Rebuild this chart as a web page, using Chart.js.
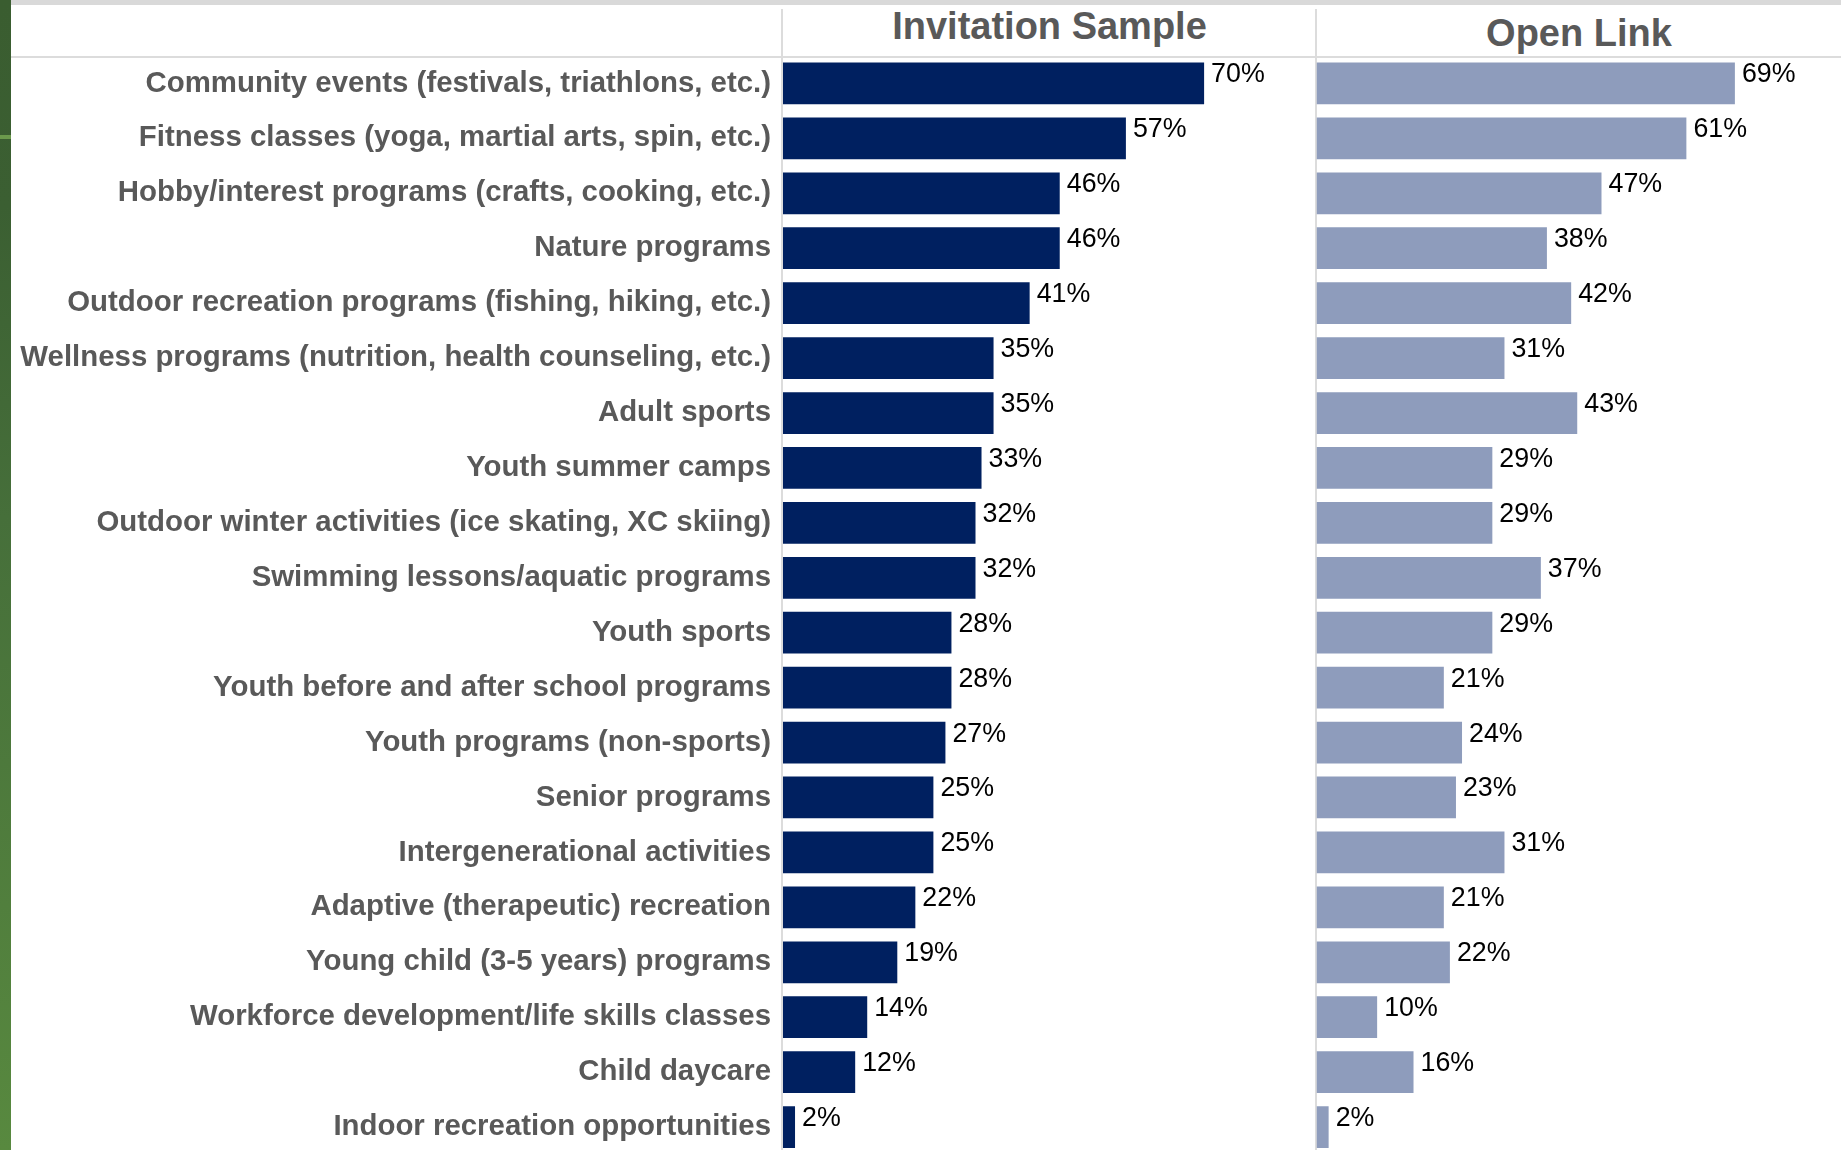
<!DOCTYPE html>
<html>
<head>
<meta charset="utf-8">
<title>Program interest by sample</title>
<script src="https://cdn.jsdelivr.net/npm/chart.js@4.4.1/dist/chart.umd.min.js"></script>
<style>
  html, body {
    margin: 0;
    padding: 0;
    width: 1841px;
    height: 1150px;
    overflow: hidden;
    background: #ffffff;
    font-family: "Liberation Sans", Arial, sans-serif;
  }
  #page { position: relative; width: 1841px; height: 1150px; }
  canvas { position: absolute; top: 0; }
  #chartInvite { left: 0; }
  #chartOpen   { left: 1316px; }

  /* slide frame: green edge strip, grey top band, table rules */
  .strip {
    position: absolute; left: 0; top: 0; width: 11px; height: 1150px;
    background: linear-gradient(to bottom, #3a5d30 0%, #3b5f32 18%, #466f3a 45%, #58893f 100%);
    z-index: 3;
  }
  .strip-tick {
    position: absolute; left: 0; top: 135px; width: 11px; height: 4px;
    background: #6b9a4c; z-index: 4;
  }
  .topband {
    position: absolute; left: 11px; top: 0; width: 1830px; height: 5px;
    background: #d9d9d9;
  }
  .hrule {
    position: absolute; left: 11px; top: 56px; width: 1830px; height: 2px;
    background: #dcdcdc;
  }
  .vrule {
    position: absolute; top: 9px; width: 2px; height: 1141px;
    background: #dcdcdc;
  }
  .panel-title {
    position: absolute; top: 0; height: 56px;
    text-align: center; font-weight: bold; font-size: 38px;
    color: #595959; white-space: nowrap;
  }
</style>
</head>
<body>
<div id="page">
  <div class="strip"></div>
  <div class="strip-tick"></div>
  <div class="topband"></div>
  <div class="hrule"></div>
  <div class="vrule" style="left:781px"></div>
  <div class="vrule" style="left:1315px"></div>
  <div class="panel-title" id="titleInvite" style="left:783px;width:533px;line-height:52px"></div>
  <div class="panel-title" id="titleOpen" style="left:1317px;width:524px;line-height:66px"></div>
  <canvas id="chartInvite" width="1316" height="1160"></canvas>
  <canvas id="chartOpen" width="525" height="1160"></canvas>
</div>

<script>
"use strict";

/* ── data ─────────────────────────────────────────────────────────────────── */

var categories = [
  "Community events (festivals, triathlons, etc.)",
  "Fitness classes (yoga, martial arts, spin, etc.)",
  "Hobby/interest programs (crafts, cooking, etc.)",
  "Nature programs",
  "Outdoor recreation programs (fishing, hiking, etc.)",
  "Wellness programs (nutrition, health counseling, etc.)",
  "Adult sports",
  "Youth summer camps",
  "Outdoor winter activities (ice skating, XC skiing)",
  "Swimming lessons/aquatic programs",
  "Youth sports",
  "Youth before and after school programs",
  "Youth programs (non-sports)",
  "Senior programs",
  "Intergenerational activities",
  "Adaptive (therapeutic) recreation",
  "Young child (3-5 years) programs",
  "Workforce development/life skills classes",
  "Child daycare",
  "Indoor recreation opportunities"
];

var invitationValues = [70, 57, 46, 46, 41, 35, 35, 33, 32, 32, 28, 28, 27, 25, 25, 22, 19, 14, 12, 2];
var openLinkValues   = [69, 61, 47, 38, 42, 31, 43, 29, 29, 37, 29, 21, 24, 23, 31, 21, 22, 10, 16, 2];

var panelTitles = ["Invitation Sample", "Open Link"];

/* ── styling ──────────────────────────────────────────────────────────────── */

var FONT_FAMILY = "'Liberation Sans', Arial, sans-serif";
var NAVY        = "#002060";
var SLATE       = "#8e9cbc";
var LABEL_GREY  = "#595959";

document.getElementById("titleInvite").textContent = panelTitles[0];
document.getElementById("titleOpen").textContent   = panelTitles[1];

/* ── value labels ─────────────────────────────────────────────────────────── */

// Prints "NN%" just past the end of every bar, sitting a little high like
// the original spreadsheet labels.
var valueLabels = {
  id: "valueLabels",
  afterDatasetsDraw: function(chart) {
    var ctx    = chart.ctx;
    var meta   = chart.getDatasetMeta(0);
    var values = chart.data.datasets[0].data;
    ctx.save();
    ctx.font         = "26.8px " + FONT_FAMILY;
    ctx.fillStyle    = "#000000";
    ctx.textAlign    = "left";
    ctx.textBaseline = "alphabetic";
    meta.data.forEach(function(bar, i) {
      ctx.fillText(values[i] + "%", bar.x + 7, bar.y - 1);
    });
    ctx.restore();
  }
};

/* ── chart builder ────────────────────────────────────────────────────────── */

function buildPanel(canvasId, values, colour, xMax, showCategories) {
  var yScale = {
    type: "category",
    display: showCategories,
    grid:   { display: false, drawTicks: false },
    border: { display: false },
    ticks: {
      color: LABEL_GREY,
      padding: 12,
      autoSkip: false,
      font: { family: FONT_FAMILY, size: 29.4, weight: "bold" }
    },
    afterFit: function(scale) {
      // Pin the label column so the bars start on the table rule, and drop the
      // half-label padding so both panels share the same row pitch.
      if (showCategories) scale.width = 783;
      scale.paddingTop = 0;
      scale.paddingBottom = 0;
    }
  };

  return new Chart(document.getElementById(canvasId), {
    type: "bar",
    data: {
      labels: categories,
      datasets: [{
        data: values,
        backgroundColor: colour,
        borderWidth: 0,
        barPercentage: 0.76,
        categoryPercentage: 1.0
      }]
    },
    options: {
      indexAxis: "y",
      responsive: false,
      animation: false,
      devicePixelRatio: 1,
      layout: {
        padding: { top: 56, bottom: 5.5, left: showCategories ? 0 : 0.5, right: 0 }
      },
      scales: {
        x: { display: false, min: 0, max: xMax },
        y: yScale
      },
      plugins: {
        legend:  { display: false },
        title:   { display: false },
        tooltip: { enabled: false }
      }
    },
    plugins: [valueLabels]
  });
}

buildPanel("chartInvite", invitationValues, NAVY,  88.6, true);
buildPanel("chartOpen",   openLinkValues,   SLATE, 86.5, false);
</script>
</body>
</html>
